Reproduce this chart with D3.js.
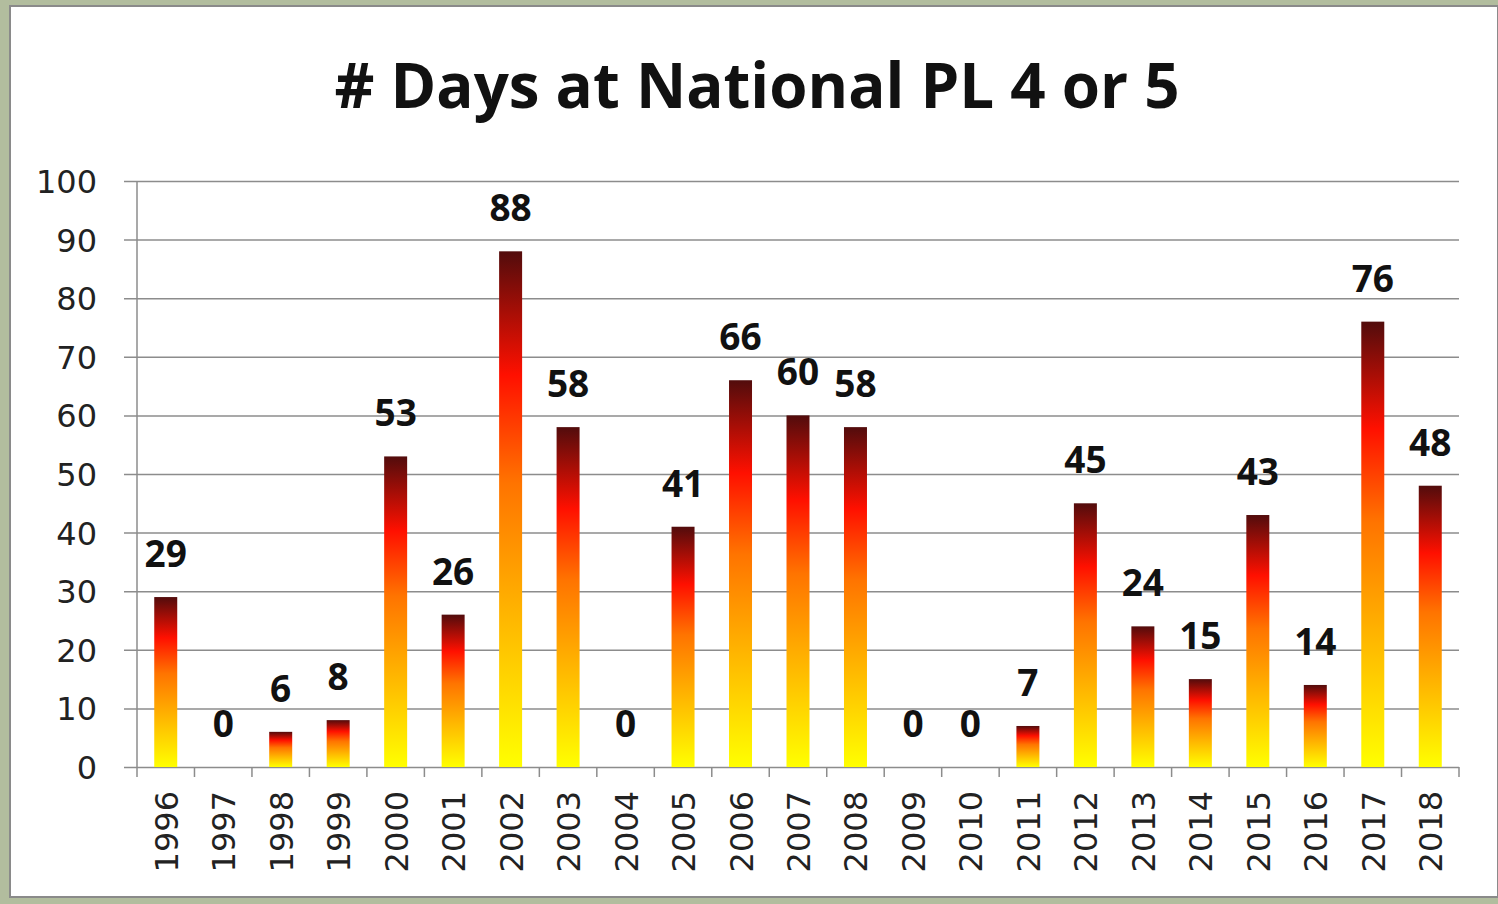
<!DOCTYPE html>
<html>
<head>
<meta charset="utf-8">
<script src="https://cdn.jsdelivr.net/npm/d3@7"></script>
<style>
  html, body { margin: 0; padding: 0; background: #fff; }
  svg { display: block; }
</style>
</head>
<body>
<svg id="chart"></svg>
<script>
const years = ['1996', '1997', '1998', '1999', '2000', '2001', '2002', '2003', '2004', '2005', '2006', '2007',
  '2008', '2009', '2010', '2011', '2012', '2013', '2014', '2015', '2016', '2017', '2018']
const days = [29, 0, 6, 8, 53, 26, 88, 58, 0, 41, 66, 60, 58, 0, 0, 7, 45, 24, 15, 43, 14, 76, 48]
const yTicks = [0, 10, 20, 30, 40, 50, 60, 70, 80, 90, 100]
const title = '# Days at National PL 4 or 5'

const width = 1498
const height = 904
const margin = { top: 181, right: 39, bottom: 137, left: 137 }

const svg = d3.select('#chart')
  .attr('width', width)
  .attr('height', height)

// frame
svg.append('rect')
  .attr('width', width).attr('height', height)
  .attr('fill', '#b2bd9e')
svg.append('rect')
  .attr('x', 10).attr('y', 6)
  .attr('width', width - 10).attr('height', 891)
  .attr('fill', '#fff')
  .attr('stroke', '#8a8a8a')
  .attr('stroke-width', 2)

const defs = svg.append('defs')
const grad = defs.append('linearGradient')
  .attr('id', 'fire')
  .attr('x1', 0).attr('y1', 1).attr('x2', 0).attr('y2', 0)
const stops = [
  [0, '#ffff00'],
  [0.3, '#ffb400'],
  [0.55, '#ff7400'],
  [0.76, '#ff1000'],
  [1, '#520c0c']
]
stops.forEach(s => grad.append('stop').attr('offset', s[0]).attr('stop-color', s[1]))

const x = d3.scaleBand()
  .domain(years)
  .range([margin.left, width - margin.right])
  .paddingInner(0.6)
  .paddingOuter(0.3)

const y = d3.scaleLinear()
  .domain([0, 100])
  .range([height - margin.bottom, margin.top])

// title
svg.append('text')
  .attr('x', 757)
  .attr('y', 108)
  .attr('text-anchor', 'middle')
  .attr('font-family', 'Open Sans, sans-serif')
  .attr('font-weight', 700)
  .attr('font-size', 63)
  .attr('textLength', 845)
  .attr('lengthAdjust', 'spacingAndGlyphs')
  .attr('fill', '#111')
  .text(title)

// gridlines + y axis
const yAxis = (g) => g
  .attr('transform', `translate(${margin.left},0)`)
  .call(
    d3.axisLeft(y)
      .tickValues(yTicks)
      .tickSize(-(width - margin.right - margin.left))
      .tickPadding(40)
  )
  .call(g => g.select('.domain').remove())
  .call(g => g.selectAll('.tick line')
    .attr('x1', -13)
    .attr('stroke', '#8c8c8c')
    .attr('stroke-width', 1.5))
  .call(g => g.selectAll('.tick text')
    .attr('font-family', 'DejaVu Sans, sans-serif')
    .attr('font-size', 32)
    .attr('fill', '#222')
    .attr('dy', '0.36em'))

svg.append('g').call(yAxis)

svg.append('line')
  .attr('x1', margin.left).attr('x2', margin.left)
  .attr('y1', margin.top).attr('y2', height - margin.bottom)
  .attr('stroke', '#8c8c8c').attr('stroke-width', 1.5)

// x axis: ticks between categories
const step = x.step()
const xAxisY = height - margin.bottom
svg.append('g')
  .selectAll('line')
  .data(d3.range(years.length + 1))
  .join('line')
  .attr('x1', i => x(years[0]) - step * 0.3 + i * step)
  .attr('x2', i => x(years[0]) - step * 0.3 + i * step)
  .attr('y1', xAxisY)
  .attr('y2', xAxisY + 10)
  .attr('stroke', '#8c8c8c')
  .attr('stroke-width', 1.5)

svg.append('g')
  .selectAll('text')
  .data(years)
  .join('text')
  .attr('transform', d => `translate(${x(d) + x.bandwidth() / 2 + 12},${xAxisY + 24}) rotate(-90)`)
  .attr('text-anchor', 'end')
  .attr('font-family', 'DejaVu Sans, sans-serif')
  .attr('font-size', 32)
  .attr('fill', '#222')
  .text(d => d)

// bars
svg.append('g')
  .selectAll('rect')
  .data(days)
  .join('rect')
  .attr('x', (d, i) => x(years[i]))
  .attr('y', d => y(d))
  .attr('width', x.bandwidth())
  .attr('height', d => y(0) - y(d))
  .attr('fill', 'url(#fire)')

// value labels
svg.append('g')
  .selectAll('text')
  .data(days)
  .join('text')
  .attr('x', (d, i) => x(years[i]) + x.bandwidth() / 2)
  .attr('y', d => y(d) - 30)
  .attr('text-anchor', 'middle')
  .attr('font-family', 'Open Sans, sans-serif')
  .attr('font-weight', 700)
  .attr('font-size', 37)
  .attr('fill', '#111')
  .text(d => d)
</script>
</body>
</html>
